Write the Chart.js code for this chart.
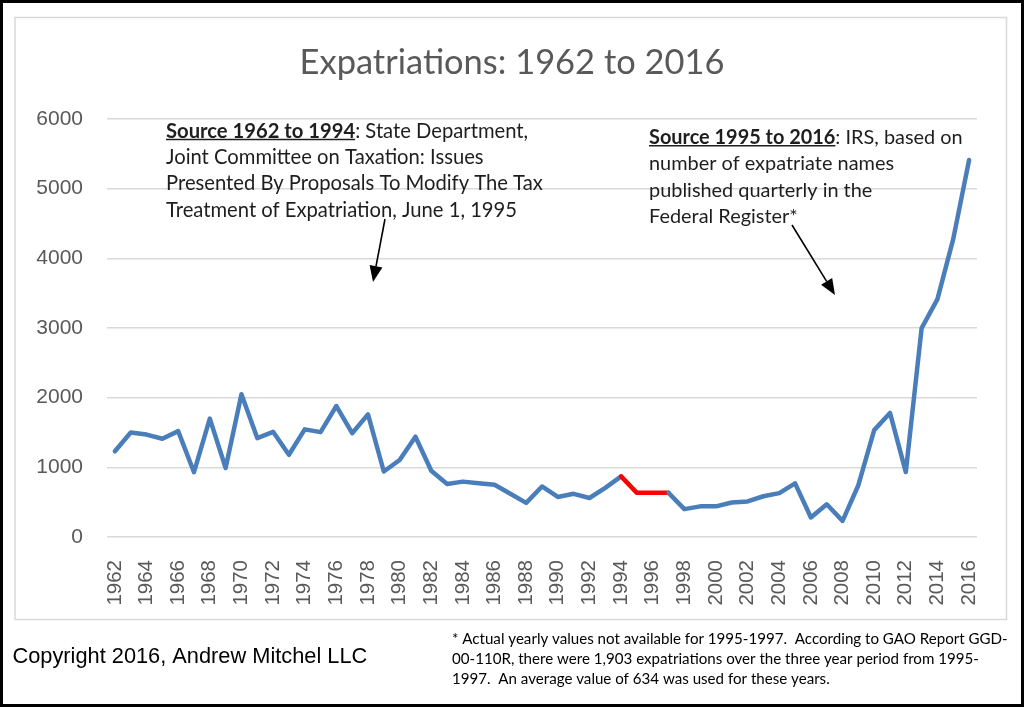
<!DOCTYPE html>
<html><head><meta charset="utf-8">
<script src="https://cdn.jsdelivr.net/npm/chart.js@4.4.1/dist/chart.umd.min.js"></script>
<style>html,body{margin:0;padding:0;background:#fff;}canvas{display:block;}</style>
</head><body>
<canvas id="c" width="1024" height="707"></canvas>
<script>
// ---------- DATA ----------
const years = ['1962','1963','1964','1965','1966','1967','1968','1969','1970','1971','1972','1973','1974','1975','1976','1977','1978','1979','1980','1981','1982','1983','1984','1985','1986','1987','1988','1989','1990','1991','1992','1993','1994','1995','1996','1997','1998','1999','2000','2001','2002','2003','2004','2005','2006','2007','2008','2009','2010','2011','2012','2013','2014','2015','2016'];
const expatriations = [1230,1500,1470,1410,1520,930,1700,990,2050,1420,1510,1180,1545,1505,1880,1490,1760,940,1105,1440,950,760,795,770,750,620,490,725,575,620,560,705,870,634,634,634,400,440,440,495,510,585,630,770,280,470,231,743,1534,1781,932,2999,3415,4279,5411];
const estimatedYears = ['1995','1996','1997'];
const yTicks = [0,1000,2000,3000,4000,5000,6000];
const yTickLabels = ['0','1000','2000','3000','4000','5000','6000'];
const chartTitle = 'Expatriations: 1962 to 2016';
const leftNote = [
  [{t:'Source 1962 to 1994', b:true, u:true},{t:': State Department,'}],
  [{t:'Joint Committee on Taxation: Issues'}],
  [{t:'Presented By Proposals To Modify The Tax'}],
  [{t:'Treatment of Expatriation, June 1, 1995'}]
];
const rightNote = [
  [{t:'Source 1995 to 2016', b:true, u:true},{t:': IRS, based on'}],
  [{t:'number of expatriate names'}],
  [{t:'published quarterly in the'}],
  [{t:'Federal Register*'}]
];
const copyrightText = 'Copyright 2016, Andrew Mitchel LLC';
const footnote = [
  '* Actual yearly values not available for 1995-1997.  According to GAO Report GGD-',
  '00-110R, there were 1,903 expatriations over the three year period from 1995-',
  '1997.  An average value of 634 was used for these years.'
];

// ---------- STYLE / LAYOUT ----------
const BLUE = '#4a7ebb', RED = '#ff0000', GRAY = '#595959', GRID = '#d9d9d9', TEXT = '#1e1e1e';
const NOTE_FONT = 'Lato';
const mctx = document.createElement('canvas').getContext('2d');
function runsWidth(runs, size, fam){
  let w = 0;
  runs.forEach(r => { mctx.font = (r.b?'bold ':'') + size + 'px ' + fam; w += mctx.measureText(r.t).width; });
  return w;
}
function fitSize(runs, target, fam){
  const w = runsWidth(runs, 100, fam);
  return 100 * target / w;
}
const titleSize = fitSize([{t:chartTitle}], 425, NOTE_FONT);
const leftSize = fitSize(leftNote[2], 377, NOTE_FONT);
const rightSize = fitSize(rightNote[0], 314, NOTE_FONT);
const footSize = fitSize([{t:footnote[0]}], 556, NOTE_FONT);
const copySize = fitSize([{t:copyrightText}], 355, 'Liberation Sans');

const titleCenterY = 63, plotTop = 119;
const titlePadTop = titleCenterY - 0.6 * titleSize;
const titlePadBottom = plotTop - (titlePadTop + 1.2 * titleSize);

function drawRunsLine(ctx, runs, x, y, size, fam, color){
  let cx = x;
  runs.forEach(r => {
    ctx.font = (r.b?'bold ':'') + size + 'px ' + fam;
    ctx.fillStyle = color;
    ctx.textBaseline = 'middle';
    ctx.textAlign = 'left';
    ctx.fillText(r.t, cx, y);
    const w = ctx.measureText(r.t).width;
    if (r.u) {
      ctx.strokeStyle = color; ctx.lineWidth = 1.5;
      ctx.beginPath();
      const uy = y + size * 0.42;
      ctx.moveTo(cx, uy); ctx.lineTo(cx + w, uy); ctx.stroke();
    }
    cx += w;
  });
}
function drawArrow(ctx, x1, y1, x2, y2){
  const ang = Math.atan2(y2 - y1, x2 - x1);
  const hl = 16, hw = 6.5;
  const bx = x2 - hl * Math.cos(ang), by = y2 - hl * Math.sin(ang);
  ctx.strokeStyle = '#000'; ctx.fillStyle = '#000'; ctx.lineWidth = 1.6;
  ctx.beginPath(); ctx.moveTo(x1, y1); ctx.lineTo(bx, by); ctx.stroke();
  ctx.beginPath();
  ctx.moveTo(x2, y2);
  ctx.lineTo(bx + hw * Math.sin(ang), by - hw * Math.cos(ang));
  ctx.lineTo(bx - hw * Math.sin(ang), by + hw * Math.cos(ang));
  ctx.closePath(); ctx.fill();
}

const decor = {
  id: 'decor',
  beforeDraw(chart){
    const ctx = chart.ctx;
    ctx.save();
    ctx.fillStyle = '#fff'; ctx.fillRect(0, 0, chart.width, chart.height);
    ctx.strokeStyle = GRID; ctx.lineWidth = 1.5;
    ctx.strokeRect(15, 17.5, 991.5, 602);
    ctx.restore();
  },
  afterDraw(chart){
    const ctx = chart.ctx;
    ctx.save();
    leftNote.forEach((ln, i) => drawRunsLine(ctx, ln, 166, 131 + i * 26.4, leftSize, NOTE_FONT, TEXT));
    rightNote.forEach((ln, i) => drawRunsLine(ctx, ln, 649, 137.5 + i * 26.3, rightSize, NOTE_FONT, TEXT));
    drawArrow(ctx, 385, 219, 373, 282);
    drawArrow(ctx, 792, 225, 835, 295);
    drawRunsLine(ctx, [{t:copyrightText}], 12.5, 657, copySize, 'Liberation Sans', '#000');
    footnote.forEach((ln, i) => drawRunsLine(ctx, [{t:ln}], 452, 639 + i * 20, footSize, NOTE_FONT, '#000'));
    ctx.strokeStyle = '#000'; ctx.lineWidth = 3;
    ctx.strokeRect(1.5, 1.5, 1021, 704);
    ctx.restore();
  }
};

new Chart(document.getElementById('c'), {
  type: 'line',
  data: {
    labels: years,
    datasets: [{
      label: 'Expatriations',
      data: expatriations,
      yAxisID: 'y',
      borderColor: BLUE,
      borderWidth: 4.5,
      pointRadius: 0,
      tension: 0,
      borderJoinStyle: 'round',
      borderCapStyle: 'round',
      segment: {
        borderColor: c => estimatedYears.includes(years[c.p1DataIndex]) ? RED : undefined
      }
    }]
  },
  options: {
    responsive: false,
    animation: false,
    devicePixelRatio: 1,
    layout: { padding: { left: 23, right: 23, top: 0, bottom: 90 } },
    plugins: {
      legend: { display: false },
      tooltip: { enabled: false },
      title: {
        display: true,
        text: chartTitle,
        color: GRAY,
        font: { family: NOTE_FONT, size: titleSize, weight: 'normal' },
        padding: { top: titlePadTop, bottom: titlePadBottom }
      }
    },
    scales: {
      x: {
        offset: true,
        grid: { display: false },
        border: { display: false },
        ticks: {
          autoSkip: false,
          minRotation: 90, maxRotation: 90,
          padding: 15,
          color: GRAY,
          font: { family: 'Liberation Sans', size: 20.5 },
          callback: (v, i) => i % 2 === 0 ? years[i] : ''
        },
        afterFit: s => { s.height = 80; }
      },
      y: {
        position: 'left',
        min: yTicks[0], max: yTicks[yTicks.length - 1],
        afterBuildTicks: s => { s.ticks = yTicks.map(v => ({ value: v })); },
        grid: { color: GRID, lineWidth: 1.5, drawTicks: false },
        border: { display: false },
        ticks: {
          padding: 24,
          color: GRAY,
          font: { family: 'Liberation Sans', size: 21 },
          callback: v => yTickLabels[yTicks.indexOf(v)]
        },
        afterFit: s => { s.width = 84; }
      },
      yRight: {
        position: 'right',
        min: 0, max: 1,
        grid: { display: false, drawTicks: false },
        border: { display: false },
        ticks: { display: false },
        afterFit: s => { s.width = 24; }
      }
    }
  },
  plugins: [decor]
});
</script>
</body></html>
